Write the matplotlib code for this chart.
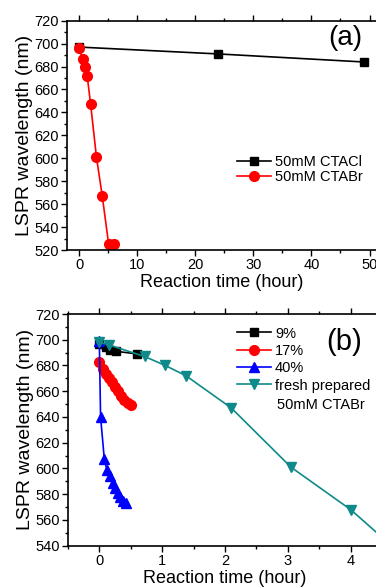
import matplotlib
matplotlib.use("Agg")
import matplotlib.pyplot as plt
from matplotlib.ticker import MultipleLocator

plt.rcParams['font.family'] = ['Liberation Sans', 'DejaVu Sans']

# ---- Panel (a) data ----
a_ctacl_x = [0, 24, 49]
a_ctacl_y = [697, 691, 684]
a_ctabr_x = [0, 0.6, 1.0, 1.4, 2.0, 3.0, 4.0, 5.1, 6.0]
a_ctabr_y = [696, 687, 680, 672, 647, 601, 567, 525, 525]

# ---- Panel (b) data ----
b9_x = [0, 0.1, 0.17, 0.27, 0.6]
b9_y = [697, 694, 692, 691, 689]
b17_x = [0, 0.06, 0.1, 0.15, 0.2, 0.25, 0.3, 0.35, 0.4, 0.45, 0.51]
b17_y = [683, 677, 673, 670, 667, 663, 660, 656, 653, 651, 649]
b40_x = [0, 0.02, 0.08, 0.12, 0.17, 0.21, 0.25, 0.29, 0.33, 0.37, 0.42]
b40_y = [699, 640, 607, 599, 594, 589, 585, 581, 578, 575, 573]
bfresh_x = [0, 0.15, 0.72, 1.05, 1.38, 2.1, 3.05, 4.0, 5.0]
bfresh_y = [698, 696, 687, 680, 672, 647, 601, 568, 525]

W, H = 376, 587
fig = plt.figure(figsize=(W / 100, H / 100), dpi=100)

def px_axes(left, top, right, bottom):
    return fig.add_axes([left / W, 1 - bottom / H, (right - left) / W, (bottom - top) / H])

def style(ax):
    for s in ax.spines.values():
        s.set_linewidth(1.2)
    ax.tick_params(which='both', direction='out', top=True, right=True,
                   labelsize=10.5, width=1.0, colors='black')
    ax.tick_params(which='major', length=4.5)
    ax.tick_params(which='minor', length=2.5)
    ax.tick_params(axis='both', which='both', labeltop=False, labelright=False, pad=1.5)

teal = '#0e8a8a'
lw = 1.2
ms = 6

# Panel (a)
ax1 = px_axes(67, 20.7, 376.5, 250)
ax1.plot(a_ctacl_x, a_ctacl_y, '-s', color='black', lw=lw, ms=ms, label='50mM CTACl')
ax1.plot(a_ctabr_x, a_ctabr_y, '-o', color='red', lw=lw, ms=ms + 1, label='50mM CTABr')
ax1.set_xlim(-2.07, 51.2)
ax1.set_ylim(520, 720)
ax1.xaxis.set_major_locator(MultipleLocator(10))
ax1.xaxis.set_minor_locator(MultipleLocator(5))
ax1.yaxis.set_major_locator(MultipleLocator(20))
ax1.yaxis.set_minor_locator(MultipleLocator(10))
style(ax1)
ax1.set_xlabel('Reaction time (hour)', fontsize=13, labelpad=1.5)
ax1.set_ylabel('LSPR wavelength (nm)', fontsize=14, labelpad=1)
ax1.text(345 / W, 1 - 38 / H, '(a)', transform=fig.transFigure, fontsize=20,
         ha='center', va='center')
ax1.legend(loc='upper left', bbox_to_anchor=(237 / W, 1 - 155 / H),
           bbox_transform=fig.transFigure, frameon=False, fontsize=10.5,
           handlelength=2.3, handletextpad=0.3, labelspacing=0.1,
           borderpad=0, borderaxespad=0)

# Panel (b)
ax2 = px_axes(67.9, 314, 382.1, 545.7)
ax2.plot(b9_x, b9_y, '-s', color='black', lw=lw, ms=ms, label='9%')
ax2.plot(b17_x, b17_y, '-o', color='red', lw=lw, ms=ms + 1, label='17%')
ax2.plot(b40_x, b40_y, '-^', color='blue', lw=lw, ms=ms + 1, label='40%')
ax2.plot(bfresh_x, bfresh_y, '-v', color=teal, lw=lw, ms=ms + 1, label='fresh prepared')
ax2.set_xlim(-0.5, 4.5)
ax2.set_ylim(540, 720)
ax2.xaxis.set_major_locator(MultipleLocator(1))
ax2.xaxis.set_minor_locator(MultipleLocator(0.5))
ax2.yaxis.set_major_locator(MultipleLocator(20))
ax2.yaxis.set_minor_locator(MultipleLocator(10))
style(ax2)
ax2.set_xlabel('Reaction time (hour)', fontsize=13, labelpad=1.5)
ax2.set_ylabel('LSPR wavelength (nm)', fontsize=14, labelpad=1)
ax2.text(344 / W, 1 - 342 / H, '(b)', transform=fig.transFigure, fontsize=21,
         ha='center', va='center')
ax2.legend(loc='upper left', bbox_to_anchor=(237 / W, 1 - 326.5 / H),
           bbox_transform=fig.transFigure, frameon=False, fontsize=10.5,
           handlelength=2.3, handletextpad=0.3, labelspacing=0.23,
           borderpad=0, borderaxespad=0)
fig.text(277 / W, 1 - 405 / H, '50mM CTABr', fontsize=10.5, ha='left', va='center')

fig.savefig('out.png', dpi=100)
